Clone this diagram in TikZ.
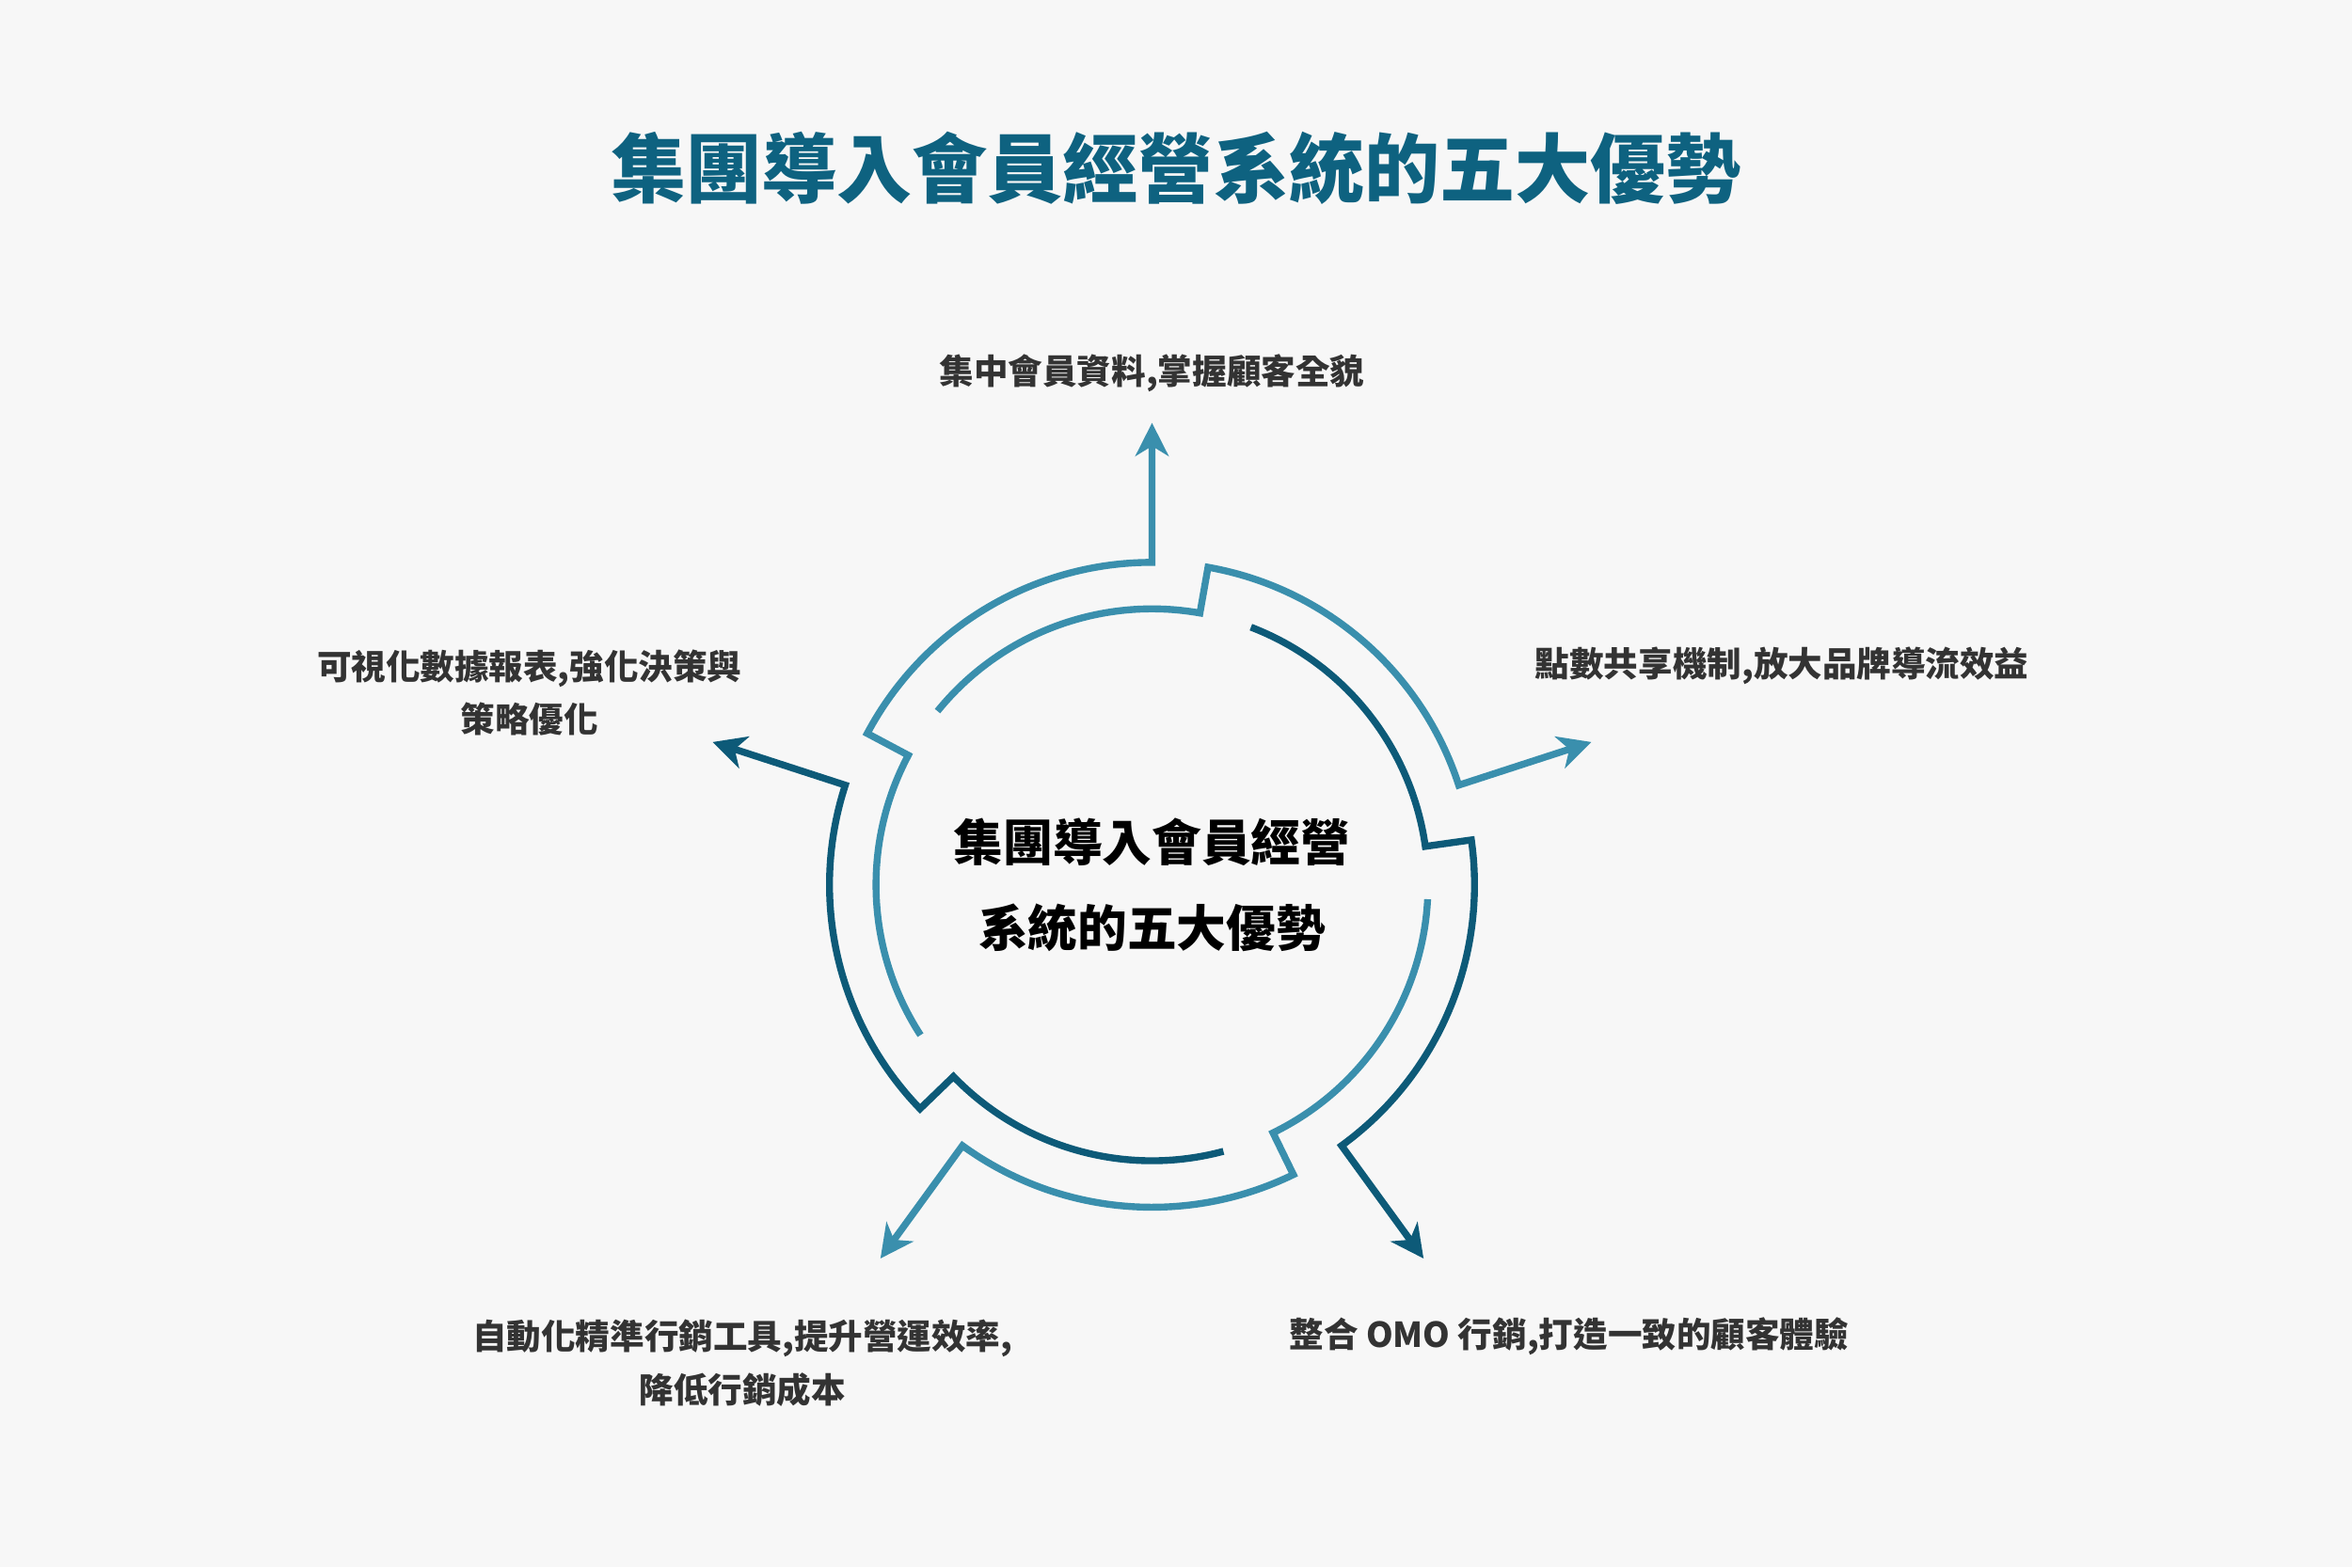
\documentclass[tikz,border=0pt]{standalone}
\usepackage{fontspec}
\newfontfamily\cjk{Noto Sans CJK TC}
\usetikzlibrary{arrows.meta,calc}
\definecolor{bgc}{HTML}{F7F7F7}
\definecolor{lightc}{HTML}{3A8FAD}
\definecolor{darkc}{HTML}{0D5A78}
\definecolor{titlec}{HTML}{0E6280}
\definecolor{txtc}{HTML}{333333}
\tikzset{
  lbl/.style={font=\cjk\bfseries\fontsize{10.4}{16}\selectfont, text=txtc, align=center},
  piece/.style={line width=2.1pt, line join=miter, -{Stealth[length=10pt,width=10pt,inset=3pt]}}
}
\begin{document}
\begin{tikzpicture}[x=0.01594cm,y=0.01594cm]
\fill[bgc] (0,0) rectangle (1568,1045);
\useasboundingbox (0,0) rectangle (1568,1045);
\coordinate (c) at (768,455);
\node[font=\cjk\bfseries\fontsize{22.8}{26}\selectfont, text=titlec] (title) at (784,933) {集團導入會員經營系統的五大優勢};
\foreach \t/\col in {90/lightc,18/lightc,-54/darkc,-126/lightc,162/darkc}{
  \draw[piece,\col] ($(c)+({\t+123}:184)$) arc[start angle={\t+123}, end angle={\t+62}, radius=184]
     -- ($(c)+({\t+62}:215)$) arc[start angle={\t+62}, end angle=\t, radius=215]
     -- ($(c)+(\t:308)$);
}
\node[font=\cjk\bfseries\fontsize{15}{26}\selectfont, text=black, align=center] (center) at (768,455) {集團導入會員經營\\系統的五大優勢};
\node[lbl] (l1) at (768,796) {集中會員資料,掌握顧客全貌};
\node[lbl] (l2) at (1188,601) {點數共享機制,放大品牌導流效益};
\node[lbl] (l3) at (1046,154) {整合 OMO 行銷,打造一致的顧客體驗};
\node[lbl] (l4) at (495,136) {自動化精準行銷工具,提升營運效率,\\降低行銷成本};
\node[lbl] (l5) at (353,583) {可視化數據報表,強化決策與\\策略優化};
\end{tikzpicture}
\end{document}
